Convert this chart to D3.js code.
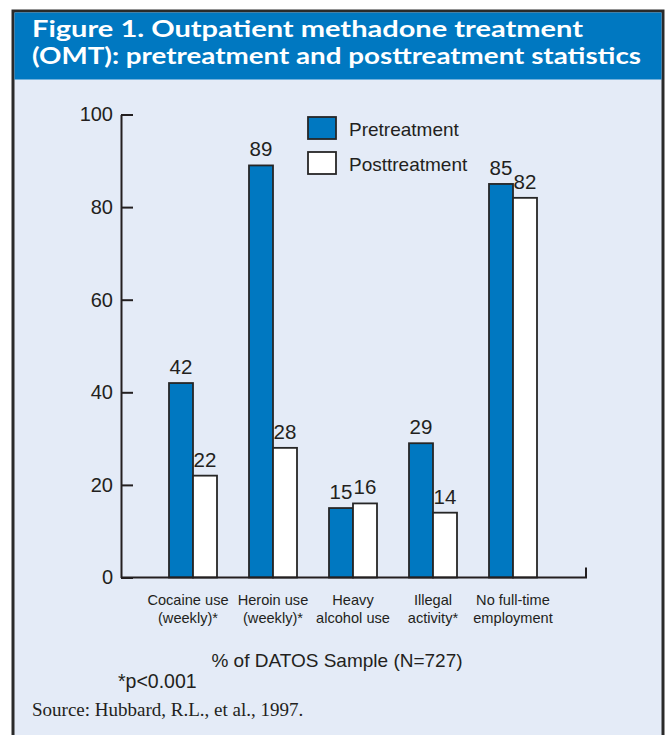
<!DOCTYPE html>
<html>
<head>
<meta charset="utf-8">
<script src="https://cdn.jsdelivr.net/npm/d3@7"></script>
<style>
  body { margin: 0; background: #fff; }
  text { font-family: "Liberation Sans", Arial, sans-serif; fill: #231f20; }
</style>
</head>
<body>
<svg id="chart" width="667" height="735"></svg>
<script>
// chart data
var categories = ['Cocaine use|(weekly)*', 'Heroin use|(weekly)*', 'Heavy|alcohol use', 'Illegal|activity*', 'No full-time|employment'];
var pretreatment = [42, 89, 15, 29, 85];
var posttreatment = [22, 28, 16, 14, 82];
var seriesNames = ['Pretreatment', 'Posttreatment'];
var yTicks = [0, 20, 40, 60, 80, 100];

var blue = '#0078c1';
var ink = '#231f20';

var svg = d3.select('#chart');

// frame + header
svg.append('rect')
    .attr('x', 13).attr('y', 11)
    .attr('width', 650).attr('height', 730)
    .attr('fill', '#e4ebf7')
    .attr('stroke', '#2a2a2a')
    .attr('stroke-width', 3);

svg.append('rect')
    .attr('x', 14.5).attr('y', 12.5)
    .attr('width', 647).attr('height', 67)
    .attr('fill', blue);

var titleLines = ['Figure 1.  Outpatient methadone treatment', '(OMT): pretreatment and posttreatment statistics'];
var titleWidths = [551, 609];
svg.selectAll('.title')
    .data(titleLines)
    .enter()
    .append('text')
    .attr('class', 'title')
    .attr('x', 32)
    .attr('y', (d, i) => 37 + i * 27)
    .attr('textLength', (d, i) => titleWidths[i])
    .attr('lengthAdjust', 'spacingAndGlyphs')
    .style('font-family', 'Lato, "Open Sans", sans-serif')
    .style('font-weight', 'bold')
    .style('font-size', '23px')
    .style('fill', '#fff')
    .text(d => d);

// scales
var yScale = d3.scaleLinear().domain([0, 100]).range([577.5, 114.5]);
var xScale = d3.scaleBand().domain(categories).range([153, 553]).paddingInner(0.4).paddingOuter(0.2);
var subScale = d3.scaleBand().domain(seriesNames).range([0, xScale.bandwidth()]);

// y axis
var yAxis = d3.axisLeft(yScale)
    .tickValues(yTicks)
    .tickSizeInner(-12)
    .tickSizeOuter(0)
    .tickPadding(8);

var yAxisG = svg.append('g')
    .attr('transform', 'translate(121,0)')
    .call(yAxis);
yAxisG.selectAll('path, line').attr('stroke', ink).attr('stroke-width', 2);
yAxisG.selectAll('text')
    .style('font-family', '"Liberation Sans", Arial, sans-serif')
    .style('font-size', '20px')
    .attr('fill', ink);

// bars
var rows = categories.map((c, i) => ({cat: c, values: [pretreatment[i], posttreatment[i]]}));

var groups = svg.selectAll('.group')
    .data(rows)
    .enter()
    .append('g')
    .attr('class', 'group')
    .attr('transform', d => 'translate(' + xScale(d.cat) + ',0)');

groups.selectAll('rect')
    .data(d => d.values.map((v, j) => ({name: seriesNames[j], value: v})))
    .enter()
    .append('rect')
    .attr('x', d => subScale(d.name))
    .attr('y', d => yScale(d.value))
    .attr('width', subScale.bandwidth())
    .attr('height', d => yScale(0) - yScale(d.value))
    .attr('fill', d => d.name === 'Pretreatment' ? blue : '#fff')
    .attr('stroke', '#262626')
    .attr('stroke-width', 1.8);

groups.selectAll('.val')
    .data(d => d.values.map((v, j) => ({name: seriesNames[j], value: v})))
    .enter()
    .append('text')
    .attr('class', 'val')
    .attr('x', d => subScale(d.name) + subScale.bandwidth() / 2)
    .attr('y', d => yScale(d.value) - 9)
    .attr('text-anchor', 'middle')
    .style('font-size', '20.5px')
    .text(d => d.value);

// x axis line with end tick
var y0 = yScale(0);
svg.append('path')
    .attr('d', 'M121,' + y0 + 'H586V' + (y0 - 10))
    .attr('fill', 'none')
    .attr('stroke', ink)
    .attr('stroke-width', 2);

// category labels
var catLabels = svg.selectAll('.cat')
    .data(categories)
    .enter()
    .append('text')
    .attr('class', 'cat')
    .attr('text-anchor', 'middle')
    .style('font-size', '14.6px');

catLabels.selectAll('tspan')
    .data(d => d.split('|').map(t => ({cat: d, t: t})))
    .enter()
    .append('tspan')
    .attr('x', d => xScale(d.cat) + xScale.bandwidth() / 2 - (d.cat.indexOf('Cocaine') === 0 ? 5 : 0))
    .attr('y', (d, i) => 605 + i * 18)
    .text(d => d.t);

// legend
var legend = svg.selectAll('.legend')
    .data(seriesNames)
    .enter()
    .append('g')
    .attr('class', 'legend')
    .attr('transform', (d, i) => 'translate(308,' + (117 + i * 35) + ')');

legend.append('rect')
    .attr('width', 28)
    .attr('height', 22)
    .attr('fill', d => d === 'Pretreatment' ? blue : '#fff')
    .attr('stroke', '#262626')
    .attr('stroke-width', 1.8);

legend.append('text')
    .attr('x', 41)
    .attr('y', 19)
    .style('font-size', '19px')
    .text(d => d);

// footer texts
svg.append('text')
    .attr('x', 337)
    .attr('y', 667)
    .attr('text-anchor', 'middle')
    .style('font-size', '19px')
    .text('% of DATOS Sample (N=727)');

svg.append('text')
    .attr('x', 118)
    .attr('y', 688)
    .style('font-size', '19.5px')
    .text('*p<0.001');

svg.append('text')
    .attr('x', 32)
    .attr('y', 716)
    .style('font-family', '"Liberation Serif", "Times New Roman", serif')
    .style('font-size', '19px')
    .text('Source:  Hubbard, R.L., et al., 1997.');
</script>
</body>
</html>
